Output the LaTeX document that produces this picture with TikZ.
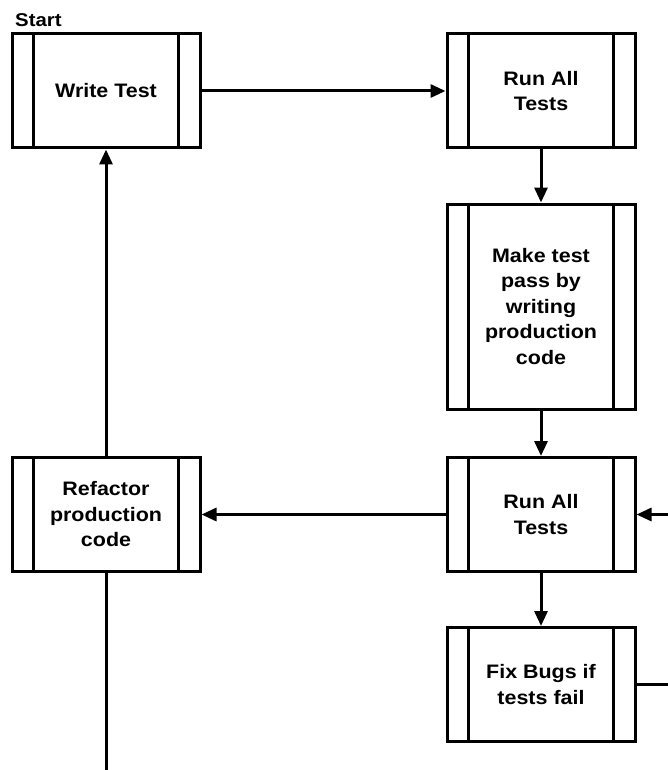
\documentclass[tikz,border=0pt]{standalone}
\usepackage{fontspec}
\setmainfont{Liberation Sans}[FakeStretch=1.1]
\usetikzlibrary{arrows.meta}
\tikzset{
  proc/.style={draw, line width=3pt, minimum width=188pt, inner sep=0pt,
    font=\bfseries\fontsize{19.5}{25.5}\selectfont, align=center, fill=white},
  conn/.style={line width=3pt},
  arr/.style={conn, -{Triangle[length=15pt,width=13pt]}},
}
\newcommand{\sidebars}[1]{%
  \draw[line width=3pt] ([xshift=23pt]#1.north west) -- ([xshift=23pt]#1.south west);
  \draw[line width=3pt] ([xshift=-23pt]#1.north east) -- ([xshift=-23pt]#1.south east);}
\begin{document}
\begin{tikzpicture}[x=1pt,y=1pt]
\useasboundingbox (0,0) rectangle (668,-770);
\node[proc, minimum height=114pt] (write) at (106,-91) {Write Test};
\node[anchor=base west, inner sep=0pt, font=\bfseries\fontsize{18.5}{20}\selectfont] (start) at (15,-27) {Start};
\node[proc, minimum height=114pt] (run1) at (541,-91) {Run All\\Tests};
\node[proc, minimum height=205pt] (make) at (541,-306.5) {Make test\\pass by\\writing\\production\\code};
\node[proc, minimum height=114pt] (run2) at (541,-514.5) {Run All\\Tests};
\node[proc, minimum height=114pt] (fix) at (541,-684.5) {Fix Bugs if\\tests fail};
\node[proc, minimum height=114pt] (refac) at (106,-514.5) {Refactor\\production\\code};
\foreach \n in {write,run1,make,run2,fix,refac} {\sidebars{\n}}
\coordinate (fixout) at (668,-684.5);
\coordinate (runin) at (668,-514.5);
\coordinate (refout) at (106,-770);
\draw[arr] (write) -- (run1);
\draw[arr] (run1) -- (make);
\draw[arr] (make) -- (run2);
\draw[arr] (run2) -- (refac);
\draw[arr] (run2) -- (fix);
\draw[arr] (refac) -- (write);
\draw[conn] (fix.east) -- (fixout);
\draw[arr] (runin) -- (run2.east);
\draw[conn] (refac.south) -- (refout);
\end{tikzpicture}
\end{document}
